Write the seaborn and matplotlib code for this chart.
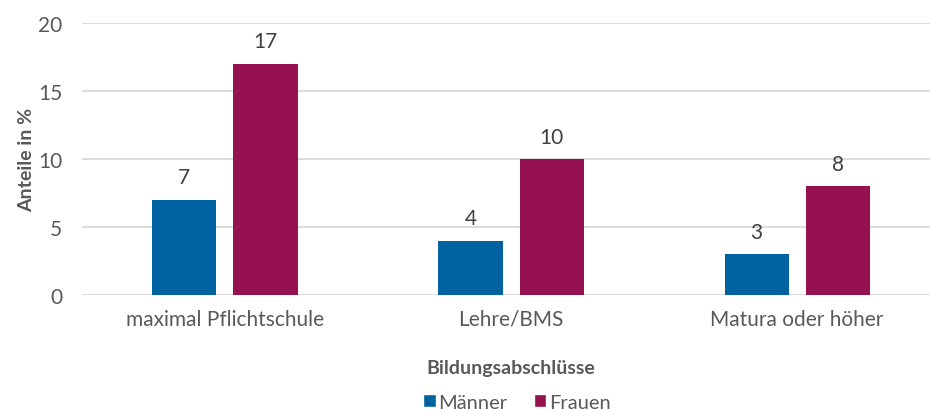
import matplotlib
matplotlib.use("Agg")
import matplotlib.pyplot as plt
import seaborn as sns
import pandas as pd
from matplotlib.patches import Patch

# Daten
kategorien = ["maximal Pflichtschule", "Lehre/BMS", "Matura oder höher"]
maenner = [7, 4, 3]
frauen = [17, 10, 8]
gruppen = ["Männer", "Frauen"]
y_ticks = [0, 5, 10, 15, 20]

farben = {"Männer": "#0062A1", "Frauen": "#95114F"}
grau = "#595959"

df = pd.DataFrame({
    "Bildung": kategorien * 2,
    "Geschlecht": [gruppen[0]] * 3 + [gruppen[1]] * 3,
    "Anteil": maenner + frauen,
})

sns.set_style("white")
plt.rcParams["font.family"] = ["Lato", "DejaVu Sans"]

fig = plt.figure(figsize=(9.3, 4.1), dpi=100)
ax = fig.add_axes([0.088, 0.278, 0.923, 0.663])

sns.barplot(data=df, x="Bildung", y="Anteil", hue="Geschlecht",
            palette=farben, width=0.567, gap=0.21, ax=ax, legend=False,
            saturation=1, edgecolor="none", linewidth=0)

for cont in ax.containers:
    ax.bar_label(cont, fmt="%d", padding=9, fontsize=15, color="#404040")

ax.set_ylim(0, 20)
ax.set_xlim(-0.5, 2.5)
ax.set_yticks(y_ticks)
ax.yaxis.grid(True, color="#D9D9D9", linewidth=1.3)
ax.set_axisbelow(True)
for s in ax.spines.values():
    s.set_visible(False)
ax.tick_params(axis="both", length=0, labelsize=15, colors=grau)
ax.tick_params(axis="y", pad=14)
ax.tick_params(axis="x", pad=10)

ax.set_ylabel("Anteile in %", fontsize=14, fontweight="bold", color=grau, labelpad=2)
ax.set_xlabel("Bildungsabschlüsse", fontsize=14, fontweight="bold", color=grau, labelpad=22)

handles = [Patch(facecolor=farben[g], label=g) for g in gruppen]
fig.legend(handles=handles, loc="lower center", bbox_to_anchor=(0.556, -0.048), ncol=2,
           frameon=False, fontsize=14.5, handlelength=0.6, handleheight=0.6,
           handletextpad=0.15, columnspacing=1.3, labelcolor=grau)

fig.savefig("out.png", dpi=100)
